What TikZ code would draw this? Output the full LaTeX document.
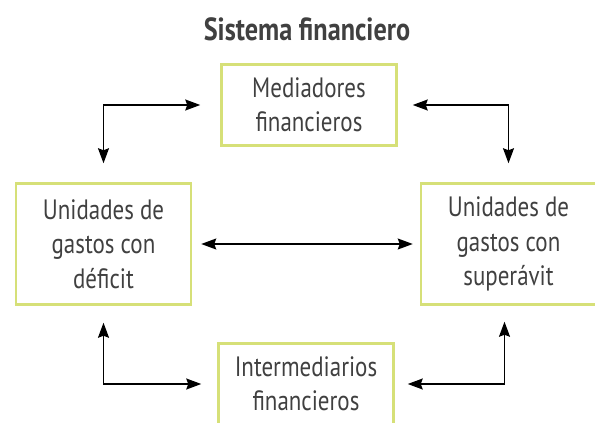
\documentclass[tikz,border=0pt]{standalone}
\usepackage{fontspec}
\setmainfont[FakeStretch=0.82]{PT Sans}
\usetikzlibrary{arrows.meta,positioning}
\definecolor{boxgreen}{RGB}{214,224,120}
\definecolor{textgray}{RGB}{64,64,64}
\tikzset{
    box/.style = {
        draw = boxgreen,
        line width = 2.5pt,
        text = textgray,
        align = center,
        inner sep = 0pt,
        minimum width = 175pt,
        font = \fontsize{28}{34.5}\selectfont,
        },
    small box/.style = {
        box,
        minimum height = 81pt,
        },
    big box/.style = {
        box,
        minimum height = 121pt,
        },
    heading/.style = {
        text = textgray,
        font = \bfseries\fontsize{32}{36}\selectfont,
        },
    flow/.style = {
        draw = black,
        line width = 1.5pt,
        {Stealth[length=15pt,width=11pt,inset=2pt]}-{Stealth[length=15pt,width=11pt,inset=2pt]},
        },
}

\begin{document}
\begin{tikzpicture}[x=1pt,y=-1pt]
            \useasboundingbox (0,0) rectangle (595,423);
            \clip (0,0) rectangle (595,423);

            \node[heading] (titulo) at (307,29) {Sistema financiero};
            \node[small box] (med) at (309,105) {Mediadores\\financieros};
            \node[big box] (def) at (103.5,244) {Unidades de\\gastos con\\déficit};
            \node[big box] (sup) at (508.5,244) {Unidades de\\gastos con\\superávit};
            \node[small box] (inter) at (306,384) {Intermediarios\\financieros};

            \draw[flow, shorten <=20pt, shorten >=19pt] (med.west) -| (def.north);
            \draw[flow, shorten <=15pt, shorten >=19pt] (med.east) -| (sup.north);
            \draw[flow, shorten <=9pt, shorten >=7pt] (def.east) -- (sup.west);
            \draw[flow, shorten <=17pt, shorten >=16pt] (def.south) |- (inter.west);
            \draw[flow, shorten <=13pt, shorten >=16pt] (inter.east) -| ([xshift=-4pt]sup.south);
        \end{tikzpicture}
\end{document}
